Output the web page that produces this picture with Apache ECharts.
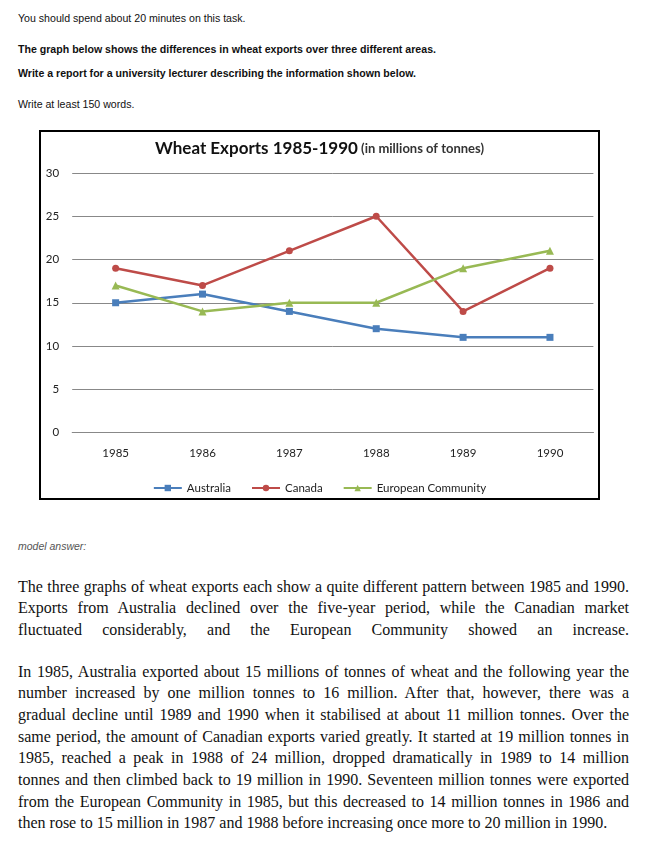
<!DOCTYPE html>
<html>
<head>
<meta charset="utf-8">
<script src="https://cdn.jsdelivr.net/npm/echarts@6/dist/echarts.min.js"></script>
<style>
  html, body { margin: 0; padding: 0; background: #fff; }
  body { width: 646px; height: 841px; position: relative; overflow: hidden; }
  .hd { position: absolute; left: 18px; font-family: "Liberation Sans", Arial, sans-serif; font-size: 10.6px; color: #111; white-space: nowrap; line-height: 14px; }
  .b { font-weight: bold; }
  #chartbox { position: absolute; left: 39px; top: 130px; width: 557px; height: 366px; border: 2px solid #000; }
  #chart { width: 557px; height: 366px; }
  .ma { position: absolute; left: 18px; top: 539px; font-family: "Liberation Sans", Arial, sans-serif; font-size: 10.5px; font-style: italic; color: #555; line-height: 14px; }
  .ln { position: absolute; left: 18px; width: 611px; font-family: "Liberation Serif", "Times New Roman", serif; font-size: 16px; color: #111; line-height: 20px; text-align: justify; text-align-last: justify; }
  .last { text-align-last: left; }
</style>
</head>
<body>
<div class="hd" style="top:11px">You should spend about 20 minutes on this task.</div>
<div class="hd b" style="top:42px">The graph below shows the differences in wheat exports over three different areas.</div>
<div class="hd b" style="top:66px">Write a report for a university lecturer describing the information shown below.</div>
<div class="hd" style="top:97px">Write at least 150 words.</div>

<div id="chartbox"><div id="chart"></div></div>

<div class="ma">model answer:</div>

<div class="ln" style="top:577px">The three graphs of wheat exports each show a quite different pattern between 1985 and 1990.</div>
<div class="ln" style="top:598px">Exports from Australia declined over the five-year period, while the Canadian market</div>
<div class="ln" style="top:620px">fluctuated considerably, and the European Community showed an increase.</div>

<div class="ln" style="top:662px">In 1985, Australia exported about 15 millions of tonnes of wheat and the following year the</div>
<div class="ln" style="top:683px">number increased by one million tonnes to 16 million. After that, however, there was a</div>
<div class="ln" style="top:705px">gradual decline until 1989 and 1990 when it stabilised at about 11 million tonnes. Over the</div>
<div class="ln" style="top:727px">same period, the amount of Canadian exports varied greatly. It started at 19 million tonnes in</div>
<div class="ln" style="top:748px">1985, reached a peak in 1988 of 24 million, dropped dramatically in 1989 to 14 million</div>
<div class="ln" style="top:770px">tonnes and then climbed back to 19 million in 1990. Seventeen million tonnes were exported</div>
<div class="ln" style="top:792px">from the European Community in 1985, but this decreased to 14 million tonnes in 1986 and</div>
<div class="ln last" style="top:813px">then rose to 15 million in 1987 and 1988 before increasing once more to 20 million in 1990.</div>

<script>
const years = ['1985', '1986', '1987', '1988', '1989', '1990'];
const australia = [15, 16, 14, 12, 11, 11];
const canada = [19, 17, 21, 25, 14, 19];
const europeanCommunity = [17, 14, 15, 15, 19, 21];
const yTicks = { min: 0, max: 30, interval: 5 };

const chart = echarts.init(document.getElementById('chart'), null, { renderer: 'canvas' });
const font = 'Lato, "Open Sans", sans-serif';
function mk(name, data, color, symbol, size) {
  return {
    name: name, type: 'line', data: data,
    symbol: symbol, symbolSize: size,
    lineStyle: { color: color, width: 2.5 },
    itemStyle: { color: color },
    emphasis: { disabled: true },
    animation: false
  };
}
chart.setOption({
  animation: false,
  title: {
    text: '{a|Wheat Exports 1985-1990}{b| (in millions of tonnes)}',
    left: 'center', top: 3,
    textStyle: {
      rich: {
        a: { fontFamily: font, fontSize: 17, fontWeight: 'bold', color: '#111' },
        b: { fontFamily: font, fontSize: 13, color: '#333' }
      }
    }
  },
  legend: {
    top: 345, left: 'center',
    itemWidth: 28, itemHeight: 8, itemGap: 20,
    textStyle: { fontFamily: font, fontSize: 11.5, color: '#222' },
    data: ['Australia', 'Canada', 'European Community']
  },
  grid: { left: 31.2, top: 41, width: 521.2, height: 259.5, containLabel: false },
  xAxis: {
    type: 'category', data: years, boundaryGap: true,
    axisLine: { lineStyle: { color: '#888', width: 1 } },
    axisTick: { show: false },
    axisLabel: { fontFamily: font, fontSize: 11.5, color: '#222', margin: 15 }
  },
  yAxis: {
    type: 'value', min: yTicks.min, max: yTicks.max, interval: yTicks.interval,
    axisLine: { show: false }, axisTick: { show: false },
    axisLabel: { fontFamily: font, fontSize: 11.5, color: '#222', margin: 13 },
    splitLine: { lineStyle: { color: '#888', width: 1 } }
  },
  series: [
    mk('Australia', australia, '#4a7ebb', 'rect', 7),
    mk('Canada', canada, '#be4b48', 'circle', 7),
    mk('European Community', europeanCommunity, '#98b954', 'triangle', 8)
  ]
});
</script>
</body>
</html>
